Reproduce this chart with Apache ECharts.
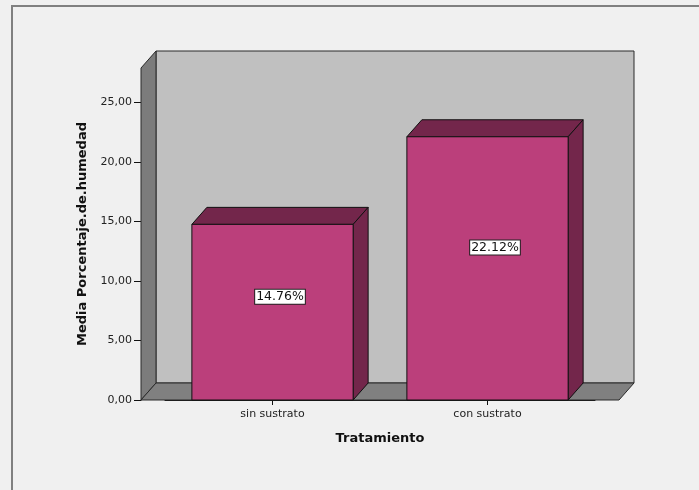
<!DOCTYPE html>
<html>
<head>
<meta charset="utf-8">
<script src="https://cdn.jsdelivr.net/npm/echarts@6/dist/echarts.min.js"></script>
<style>
  html, body { margin: 0; padding: 0; background: #f0f0f0; }
  #chart { width: 699px; height: 490px; }
</style>
</head>
<body>
<div id="chart"></div>
<script>
// Mean moisture percentage per treatment
const categories = ['sin sustrato', 'con sustrato'];
const meanValues = [14.76, 22.12];
const yTickStep = 5;
const yAxisMax = 27.9;

// 3D look: depth offset of the box and bars, extra floor beyond the category band
const DEPTH_X = 15;
const DEPTH_Y = 17;
const FLOOR_PAD = 24;
const BAR_RATIO = 0.75;

const EDGE = '#2a2a2a';
const BAR_FRONT = '#bb3f7b';
const BAR_SHADE = '#73264b';

function fmtTick(v) {
  return v.toFixed(2).replace('.', ',');
}

// Back wall, left wall and floor of the 3D box
function renderFrame(params, api) {
  const cs = params.coordSys;
  const x0 = cs.x - FLOOR_PAD;
  const x1 = cs.x + cs.width + FLOOR_PAD;
  const yTop = cs.y;
  const yBase = cs.y + cs.height;
  const dx = DEPTH_X, dy = DEPTH_Y;
  const edge = { stroke: EDGE, lineWidth: 1 };
  return {
    type: 'group',
    children: [
      {
        type: 'polygon',
        shape: { points: [[x0 + dx, yTop - dy], [x1 + dx, yTop - dy], [x1 + dx, yBase - dy], [x0 + dx, yBase - dy]] },
        style: Object.assign({ fill: '#c0c0c0' }, edge)
      },
      {
        type: 'polygon',
        shape: { points: [[x0, yBase], [x0, yTop], [x0 + dx, yTop - dy], [x0 + dx, yBase - dy]] },
        style: Object.assign({ fill: '#7c7c7c' }, edge)
      },
      {
        type: 'polygon',
        shape: { points: [[x0, yBase], [x1, yBase], [x1 + dx, yBase - dy], [x0 + dx, yBase - dy]] },
        style: Object.assign({ fill: '#808080' }, edge)
      }
    ]
  };
}

// One 3D bar: front face, top, right side and its value box
function renderBar(params, api) {
  const i = api.value(0);
  const v = api.value(1);
  const top = api.coord([i, v]);
  const base = api.coord([i, 0]);
  const w = api.size([1, 0])[0] * BAR_RATIO;
  const xl = top[0] - w / 2;
  const xr = top[0] + w / 2;
  const dx = DEPTH_X, dy = DEPTH_Y;
  const edge = { stroke: '#111', lineWidth: 1 };
  const labelY = api.coord([i, v * 0.56])[1] - 5;
  return {
    type: 'group',
    children: [
      {
        type: 'polygon',
        shape: { points: [[xl, top[1]], [xr, top[1]], [xr + dx, top[1] - dy], [xl + dx, top[1] - dy]] },
        style: Object.assign({ fill: BAR_SHADE }, edge)
      },
      {
        type: 'polygon',
        shape: { points: [[xr, top[1]], [xr, base[1]], [xr + dx, base[1] - dy], [xr + dx, top[1] - dy]] },
        style: Object.assign({ fill: BAR_SHADE }, edge)
      },
      {
        type: 'rect',
        shape: { x: xl, y: top[1], width: w, height: base[1] - top[1] },
        style: Object.assign({ fill: BAR_FRONT }, edge)
      },
      {
        type: 'text',
        z2: 10,
        style: {
          x: top[0] + dx / 2,
          y: labelY,
          text: v.toFixed(2) + '%',
          fill: '#111',
          font: '12.5px "DejaVu Sans"',
          align: 'center',
          verticalAlign: 'middle',
          backgroundColor: '#ffffff',
          borderColor: '#222',
          borderWidth: 1,
          padding: [1, 1, 0, 1]
        }
      }
    ]
  };
}

const chart = echarts.init(document.getElementById('chart'), null, { renderer: 'canvas' });

chart.setOption({
  animation: false,
  backgroundColor: '#f0f0f0',
  grid: { left: 165, right: 104, top: 68, bottom: 90, containLabel: false },
  graphic: [
    { type: 'rect', left: 11, top: 5, shape: { width: 688, height: 2 }, style: { fill: '#808080' }, silent: true },
    { type: 'rect', left: 11, top: 5, shape: { width: 2, height: 485 }, style: { fill: '#808080' }, silent: true }
  ],
  xAxis: {
    type: 'category',
    data: categories,
    boundaryGap: true,
    name: 'Tratamiento',
    nameLocation: 'middle',
    nameGap: 32,
    nameTextStyle: { fontFamily: 'DejaVu Sans', fontWeight: 'bold', fontSize: 13, color: '#111' },
    axisLine: { show: true, lineStyle: { color: '#111', width: 1 } },
    axisTick: { show: true, alignWithLabel: true, length: 5, lineStyle: { color: '#111' } },
    axisLabel: { fontFamily: 'DejaVu Sans', fontSize: 11, color: '#222', margin: 9 },
    splitLine: { show: false }
  },
  yAxis: {
    type: 'value',
    min: 0,
    max: yAxisMax,
    interval: yTickStep,
    offset: FLOOR_PAD,
    name: 'Media Porcentaje.de.humedad',
    nameLocation: 'middle',
    nameGap: 52,
    nameTextStyle: { fontFamily: 'DejaVu Sans', fontWeight: 'bold', fontSize: 13, color: '#111' },
    axisLine: { show: true, lineStyle: { color: '#111', width: 1 } },
    axisTick: { show: true, length: 7, lineStyle: { color: '#111' } },
    axisLabel: {
      fontFamily: 'DejaVu Sans', fontSize: 11, color: '#222', margin: 9,
      showMaxLabel: false,
      formatter: fmtTick
    },
    splitLine: { show: false }
  },
  series: [
    {
      type: 'custom',
      name: 'frame',
      silent: true,
      clip: false,
      z: 1,
      renderItem: renderFrame,
      data: [[0, 0]]
    },
    {
      type: 'custom',
      name: 'Media',
      clip: false,
      z: 2,
      renderItem: renderBar,
      encode: { x: 0, y: 1 },
      data: categories.map((c, i) => [i, meanValues[i]])
    }
  ]
});
</script>
</body>
</html>
